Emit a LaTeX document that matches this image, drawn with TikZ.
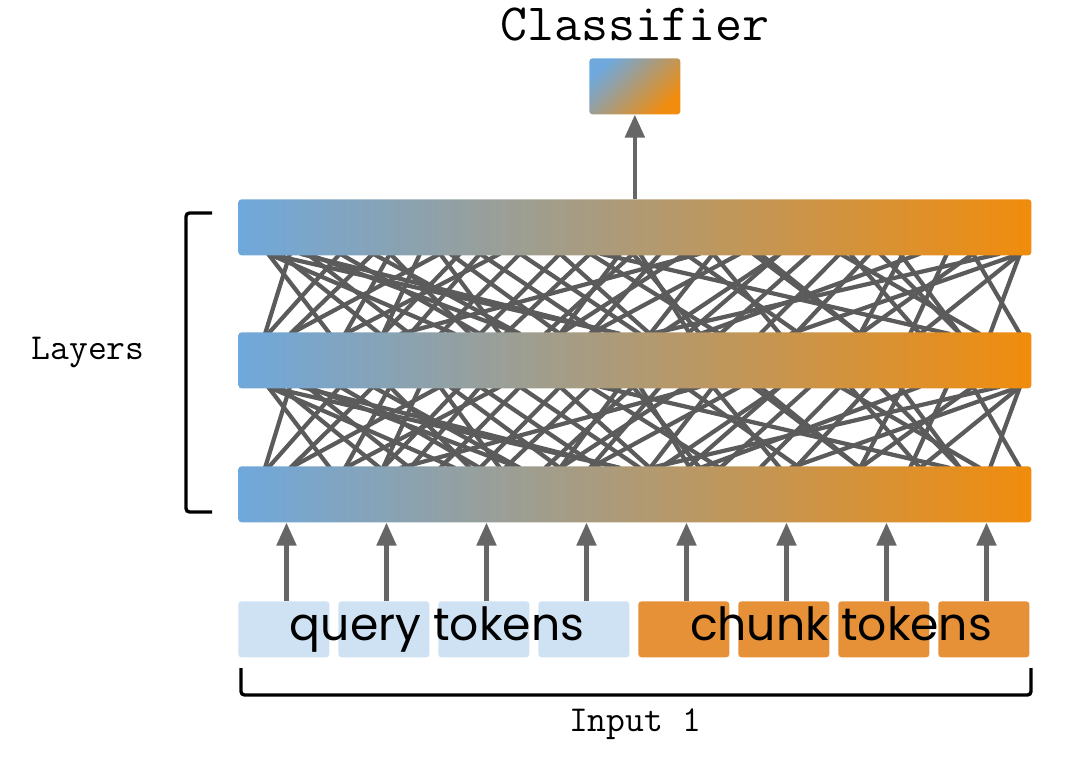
\documentclass[tikz,border=0pt]{standalone}
\usepackage{fontspec}
\usetikzlibrary{arrows.meta,calc,backgrounds}
\newfontfamily\tokfont{Poppins}
\definecolor{cblue}{HTML}{6FA8DC}
\definecolor{corange}{HTML}{F18C0C}
\definecolor{tokblue}{HTML}{CFE2F3}
\definecolor{tokorange}{HTML}{E69138}
\definecolor{arrgray}{HTML}{666666}
\definecolor{meshgray}{HTML}{5B5B5B}
\newcommand{\pxu}{0.02cm}
\tikzset{
  layerbar/.style={anchor=north west, inner sep=0pt, minimum width=793*\pxu, minimum height=56*\pxu,
    rounded corners=1.8pt, left color=cblue, right color=corange, draw=none},
  clsbox/.style={anchor=north west, inner sep=0pt, minimum width=91*\pxu, minimum height=56*\pxu,
    rounded corners=1.8pt, top color=cblue, bottom color=corange, shading angle=45, draw=none},
  qtok/.style={anchor=north west, inner sep=0pt, minimum width=91*\pxu, minimum height=56*\pxu,
    rounded corners=1.8pt, fill=tokblue, draw=none},
  ctok/.style={anchor=north west, inner sep=0pt, minimum width=91*\pxu, minimum height=56*\pxu,
    rounded corners=1.8pt, fill=tokorange, draw=none},
  arr/.style={draw=arrgray, line width=2.3pt, -{Triangle[width=11pt,length=13pt]}},
  mesh/.style={draw=meshgray, line width=2.4pt},
  brk/.style={draw=black, line width=1.9pt, rounded corners=2pt},
  monolbl/.style={inner sep=0pt, anchor=base, font=\ttfamily\fontsize{20.8pt}{24pt}\selectfont},
  toklbl/.style={inner sep=0pt, anchor=base, font=\tokfont\fontsize{26pt}{30pt}\selectfont},
}
\begin{document}
\begin{tikzpicture}[x=0.02cm, y=-0.02cm]
\useasboundingbox (0,0) rectangle (1075,760);

% layers
\node[layerbar] (L1) at (238,199) {};
\node[layerbar] (L2) at (238,332) {};
\node[layerbar] (L3) at (238,466) {};

% classifier
\node[clsbox] (C) at (589,58) {};
\node[inner sep=0pt, anchor=base, font=\ttfamily\fontsize{29.8pt}{34pt}\selectfont] (CL) at (635,41) {Classifier};
\draw[arr] (L1.north) -- (C.south);

% mesh between layers
\begin{pgfonlayer}{background}
\fill[white] (0,0) rectangle (1075,760);
\foreach \up/\dn in {L1/L2, L2/L3}{
  \foreach \a/\b in {268/330, 268/455, 268/620, 290/265, 307/410, 307/520, 340/268, 340/480,
    373/290, 373/520, 390/345, 390/470, 440/290, 440/500, 460/383, 480/410, 480/600, 500/345,
    520/640, 520/440, 560/480, 590/505, 590/720, 633/545, 633/700, 660/590, 685/560, 685/800,
    713/650, 713/780, 740/590, 753/860, 780/687, 780/660, 810/720, 840/760, 840/980, 870/795,
    880/960, 903/860, 920/700, 947/910, 973/860, 973/1020, 1020/920, 1020/790, 1020/990,
    300/620, 450/560, 600/950, 700/400, 850/920, 1000/650, 560/650, 420/383, 640/690, 900/960,
    760/860, 280/380, 620/560}{
    \draw[mesh] ($(\up.south west)+(\a-238,-2)$) -- ($(\dn.north west)+(\b-238,2)$);
  }
}
\end{pgfonlayer}

% tokens
\node[qtok] (T1) at (238,601) {};
\node[qtok] (T2) at (338,601) {};
\node[qtok] (T3) at (438,601) {};
\node[qtok] (T4) at (538,601) {};
\node[ctok] (T5) at (638,601) {};
\node[ctok] (T6) at (738,601) {};
\node[ctok] (T7) at (838,601) {};
\node[ctok] (T8) at (938,601) {};
\foreach \t in {T1,T2,T3,T4,T5,T6,T7,T8}{
  \draw[arr] ([xshift=1.5pt]\t.north) -- ([xshift=1.5pt]\t.north |- L3.south);
}
\node[toklbl] (QL) at (437,640) {query tokens};
\node[toklbl] (KL) at (841,640) {chunk tokens};

% brackets
\coordinate (B1a) at (212,213);
\coordinate (B1b) at (186,213);
\coordinate (B1c) at (186,512);
\coordinate (B1d) at (212,512);
\draw[brk] (B1a) -- (B1b) -- (B1c) -- (B1d);
\node[monolbl] (LL) at (88,359) {Layers};

\coordinate (B2a) at (241,668);
\coordinate (B2b) at (241,695);
\coordinate (B2c) at (1031,695);
\coordinate (B2d) at (1031,668);
\draw[brk] (B2a) -- (B2b) -- (B2c) -- (B2d);
\node[monolbl] (IL) at (635,731) {Input 1};
\end{tikzpicture}
\end{document}
